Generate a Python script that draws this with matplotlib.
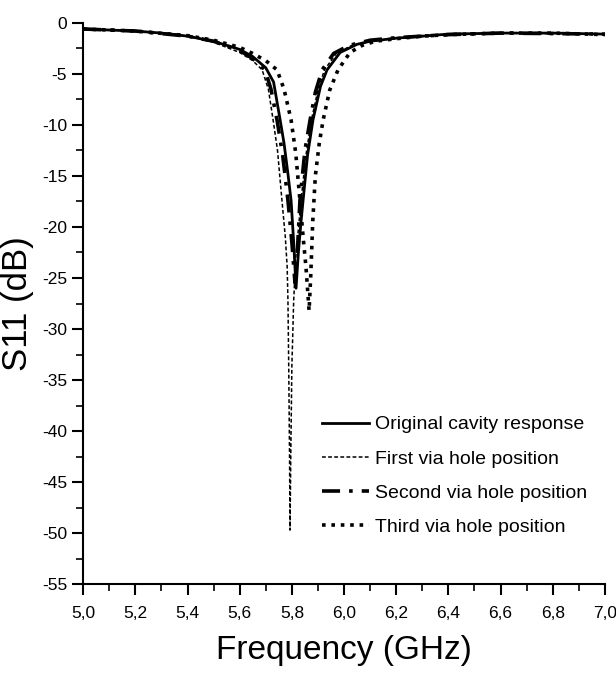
import matplotlib
matplotlib.use("Agg")
import matplotlib.pyplot as plt
from matplotlib.ticker import MultipleLocator, FuncFormatter

plt.rcParams['font.family'] = ['Liberation Sans', 'DejaVu Sans']
plt.rcParams['axes.unicode_minus'] = False

# original cavity response (solid)
f_orig = [5.00, 5.10, 5.20, 5.30, 5.40, 5.50, 5.60, 5.65, 5.70, 5.73, 5.755, 5.77, 5.785,
          5.797, 5.807, 5.816, 5.825, 5.835, 5.843, 5.86, 5.881, 5.91, 5.935, 5.985,
          6.05, 6.10, 6.20, 6.30, 6.40, 6.60, 6.80, 7.00]
s_orig = [-0.6, -0.7, -0.8, -1.0, -1.3, -1.8, -2.6, -3.3, -4.4, -5.8, -9.5, -11.8, -14.8,
          -17.4, -21.5, -26.0, -22.5, -19.5, -17.4, -13.0, -9.5, -6.2, -4.6, -2.9,
          -2.1, -1.8, -1.5, -1.3, -1.1, -1.0, -1.0, -1.1]

# first via hole position (thin dashed)
f_first = [5.00, 5.20, 5.40, 5.50, 5.60, 5.65, 5.686, 5.71, 5.728, 5.745, 5.762, 5.775,
           5.782, 5.785, 5.788, 5.791, 5.793, 5.796, 5.800, 5.807, 5.815, 5.835, 5.855,
           5.875, 5.90, 5.925, 5.97, 6.03, 6.10, 6.20, 6.40, 6.60, 7.00]
s_first = [-0.6, -0.8, -1.3, -1.9, -2.9, -3.7, -4.6, -6.5, -9.5, -12.5, -17.4, -21.0,
           -23.9, -27.2, -33.7, -42.0, -49.7, -42.0, -33.7, -27.2, -23.0, -17.4, -12.8,
           -9.5, -6.6, -4.6, -3.0, -2.2, -1.8, -1.5, -1.15, -1.0, -1.1]

# second via hole position (dash-dot)
f_second = [5.00, 5.20, 5.40, 5.50, 5.60, 5.65, 5.697, 5.72, 5.743, 5.765, 5.785, 5.80,
            5.812, 5.822, 5.831, 5.85, 5.870, 5.89, 5.916, 5.96, 6.02, 6.10, 6.20, 6.40,
            6.60, 7.00]
s_second = [-0.6, -0.8, -1.3, -1.8, -2.7, -3.5, -4.6, -6.5, -9.5, -13.0, -17.4, -21.5,
            -25.5, -22.0, -17.4, -12.5, -9.5, -6.8, -4.6, -3.0, -2.2, -1.7, -1.45, -1.15,
            -1.0, -1.1]

# third via hole position (dotted)
f_third = [5.00, 5.20, 5.40, 5.50, 5.60, 5.65, 5.70, 5.743, 5.77, 5.797, 5.815, 5.831,
           5.845, 5.854, 5.866, 5.872, 5.880, 5.890, 5.905, 5.920, 5.945, 5.977, 6.023,
           6.07, 6.12, 6.20, 6.30, 6.40, 6.60, 6.80, 7.00]
s_third = [-0.6, -0.8, -1.25, -1.7, -2.4, -3.0, -3.7, -4.6, -6.5, -9.5, -12.8, -17.4,
           -21.5, -23.9, -28.2, -25.0, -19.5, -15.0, -11.8, -9.5, -6.6, -4.6, -2.9,
           -2.2, -1.8, -1.55, -1.3, -1.15, -1.0, -1.0, -1.15]

labels = ["Original cavity response", "First via hole position",
          "Second via hole position", "Third via hole position"]

fig = plt.figure(figsize=(6.16, 6.73), dpi=100)
ax = fig.add_axes([0.135, 0.132, 0.847, 0.834])

ax.plot(f_orig, s_orig, color='black', lw=2.0, ls='-', label=labels[0])
ax.plot(f_first, s_first, color='black', lw=1.1, ls=(0, (2.5, 1.5)), label=labels[1])
ax.plot(f_second, s_second, color='black', lw=2.6, ls=(0, (5, 2.5, 1, 2.5)), label=labels[2])
ax.plot(f_third, s_third, color='black', lw=2.6, ls=(0, (1, 1.6)), label=labels[3])

ax.set_xlim(5.0, 7.0)
ax.set_ylim(-55, 0)
ax.xaxis.set_major_locator(MultipleLocator(0.2))
ax.xaxis.set_minor_locator(MultipleLocator(0.1))
ax.yaxis.set_major_locator(MultipleLocator(5))
ax.yaxis.set_minor_locator(MultipleLocator(2.5))
ax.xaxis.set_major_formatter(FuncFormatter(lambda v, p: f"{v:.1f}".replace('.', ',')))
ax.yaxis.set_major_formatter(FuncFormatter(lambda v, p: f"{v:.0f}"))

for s in ['top', 'right']:
    ax.spines[s].set_visible(False)
for s in ['left', 'bottom']:
    ax.spines[s].set_linewidth(1.5)

ax.tick_params(which='major', direction='out', length=8, width=1.5, labelsize=12.5)
ax.tick_params(axis='x', which='major', pad=8)
ax.tick_params(which='minor', direction='out', length=5, width=1.2)

ax.set_xlabel("Frequency (GHz)", fontsize=24, labelpad=10)
ax.set_ylabel("S11 (dB)", fontsize=25, labelpad=6)

leg = ax.legend(loc='upper left', bbox_to_anchor=(0.458, 0.30), frameon=False,
                fontsize=14, handlelength=2.4, handletextpad=0.3, labelspacing=0.85,
                borderaxespad=0, borderpad=0)

fig.savefig("out.png", dpi=100)
